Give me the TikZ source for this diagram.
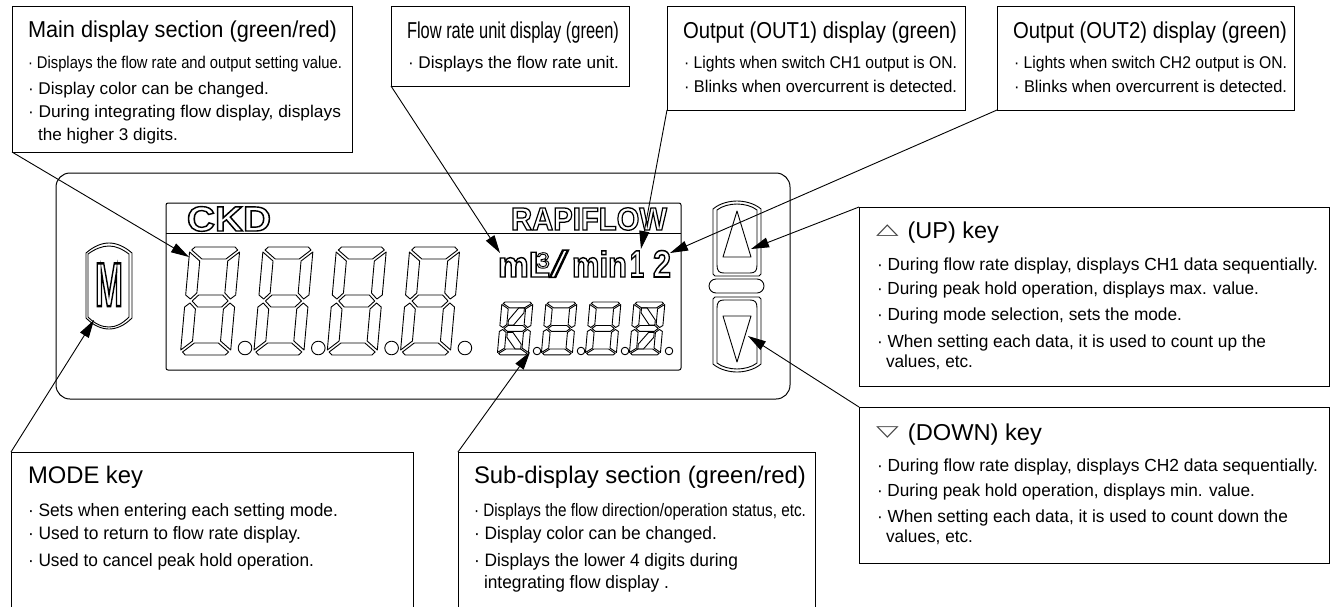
\documentclass[tikz,border=0pt]{standalone}
\usepackage{fontspec}
\usepackage{graphicx}
\setmainfont{Liberation Sans}
\newfontfamily\dejavu{DejaVu Sans}
\newfontface\outfont{Liberation Sans Bold}[FakeBold=4]
\newfontface\outreg{Liberation Sans}[FakeBold=4]
\usetikzlibrary{arrows.meta}
\newsavebox\tlbox
\newcounter{tlc}
\newcommand\txtline[5]{%
  \stepcounter{tlc}%
  \node[anchor=base west,inner sep=0pt,outer sep=0pt] (t\thetlc) at (#1,#2) {%
    \sbox\tlbox{\fontsize{#4}{#4}\selectfont #5}%
    \pgfmathsetmacro\xs{#3/\the\wd\tlbox}%
    \scalebox{\xs}[1]{\usebox\tlbox}};}
\newcommand\OT{\outfont\color{white}\special{pdf:code 0 0 0 RG}}
\newcommand\OR{\outreg\color{white}\special{pdf:code 0 0 0 RG}}
\newcommand\keyglyph[1]{\makebox[31pt][l]{\raisebox{3.5pt}{\scalebox{1.25}[.66]{\dejavu\color{black!75}#1}}}}
\tikzset{
  callout/.style={draw=black,line width=1pt,fill=white,anchor=north west,inner sep=0pt,outer sep=0pt,rectangle},
  leader/.style={draw=black,line width=0.9pt,-{Triangle[length=18pt,width=10pt]}},
  seg/.style={draw=black,line width=0.9pt,line join=round},
  panel/.style={draw=black,line width=1pt},
}
% big/small seven-segment digit
\newcommand\segs{%
  \draw[seg] (5,0)--(45,0)--(48,3)--(37,12)--(13,12)--(2,3)--cycle;
  \draw[seg] (0,5)--(11,14)--(11,46)--(5,52)--(0,48)--cycle;
  \draw[seg] (50,5)--(39,14)--(39,46)--(45,52)--(50,48)--cycle;
  \draw[seg] (7,54)--(13,48)--(37,48)--(43,54)--(37,60)--(13,60)--cycle;
  \draw[seg] (0,60)--(5,56)--(11,62)--(11,94)--(0,103)--cycle;
  \draw[seg] (50,60)--(45,56)--(39,62)--(39,94)--(50,103)--cycle;
  \draw[seg] (2,105)--(13,96)--(37,96)--(48,105)--(45,108)--(5,108)--cycle;}
\newcommand\digit[4]{\begin{scope}[shift={(#1,#2)},xslant=.09,xscale=#3,yscale=#4]\segs\end{scope}}
\newcommand\keyshape{%
  \draw[seg] (713,274)--(713,209) .. controls (720,203) and (730,201) .. (737,201) .. controls (744,201) and (754,203) .. (761,209) -- (761,274) -- (759,276) -- (715,276) -- cycle;
  \draw[seg] (717,265)--(717,210) .. controls (722,206) and (730,204) .. (737,204) .. controls (744,204) and (752,206) .. (757,210) -- (757,265) .. controls (757,271) and (755,273) .. (750,273) -- (724,273) .. controls (719,273) and (717,271) .. (717,265) -- cycle;
  \draw[seg] (737,211)--(751,257)--(723,257)--cycle;}
\begin{document}
\begin{tikzpicture}[x=1pt,y=-1pt]
\useasboundingbox (0,0) rectangle (1333,606);
% panel
\draw[panel,rounded corners=14pt] (56,173) rectangle (790,399);
\draw[panel,rounded corners=2pt] (166,203) rectangle (681,370);
\draw[panel] (166,233)--(681,233);
% big digits
\foreach \i in {0,1,2,3}{
  \digit{190+73.3*\i}{247}{1}{1}
  \draw[seg] (245+73.3*\i,348) circle (6.8);
}
% small digits
\foreach \i in {0,1,2,3}{
  \digit{502+44*\i}{302}{.62}{.49}
  \draw[seg] (537+44*\i,351) circle (3.8);
}
\begin{scope}[shift={(502,302)},xslant=.09,xscale=.62,yscale=.49]
  \draw[seg] (13,47)--(22,47)--(37,22)--(37,12)--(28,12)--(13,37)--cycle;
  \draw[seg] (13,62)--(13,72)--(28,96)--(37,96)--(37,86)--(22,62)--cycle;
\end{scope}
\begin{scope}[shift={(634,302)},xslant=.09,xscale=.62,yscale=.49]
  \draw[seg] (13,12)--(13,22)--(28,47)--(37,47)--(37,37)--(22,12)--cycle;
  \draw[seg] (13,96)--(22,96)--(37,72)--(37,62)--(28,62)--(13,86)--cycle;
\end{scope}
% LCD legends
\txtline{187}{231}{84}{35}{\OT CKD}
\txtline{511}{230}{156}{32}{\OT RAPIFLOW}
\txtline{498}{277}{52}{36}{\OT mL}
\txtline{536}{268}{14}{22}{\OR 3}
\txtline{550}{277}{18}{37}{\OR /}
\txtline{572}{277}{55}{36}{\OT min}
\txtline{630}{277}{14}{38}{\OT 1}
\txtline{653}{277}{18}{38}{\OT 2}
% M key
\draw[seg] (86,253) .. controls (94,246) and (102,243) .. (109,243) .. controls (116,243) and (124,246) .. (132,253) -- (132,318) .. controls (124,326) and (116,329) .. (109,329) .. controls (102,329) and (94,326) .. (86,318) -- cycle;
\draw[seg] (88,254) .. controls (95,249) and (102,246) .. (109,246) .. controls (116,246) and (122,249) .. (129,254) -- (129,317) .. controls (122,324) and (116,327) .. (109,327) .. controls (102,327) and (95,324) .. (88,317) -- cycle;
\txtline{95}{306}{28}{62}{\OT M}
% up / down keys
\keyshape
\begin{scope}[shift={(0,573)},yscale=-1]\keyshape\end{scope}
\draw[seg,rounded corners=7pt] (709,279) rectangle (764,293);
% callout boxes
\node[callout,minimum width=340pt,minimum height=146pt] (bmain) at (12,6) {};
\node[callout,minimum width=238pt,minimum height=80pt] (bunit) at (391,6) {};
\node[callout,minimum width=298pt,minimum height=104pt] (bout1) at (667,6) {};
\node[callout,minimum width=297pt,minimum height=104pt] (bout2) at (997,6) {};
\node[callout,minimum width=470pt,minimum height=179pt] (bup) at (859,207) {};
\node[callout,minimum width=470pt,minimum height=156pt] (bdown) at (859,407) {};
\node[callout,minimum width=402pt,minimum height=170pt] (bmode) at (11,452) {};
\node[callout,minimum width=357pt,minimum height=170pt] (bsub) at (458,452) {};
% arrow targets
\coordinate (tmain) at (189,257);
\coordinate (tunit) at (500,253);
\coordinate (tout1) at (641,249);
\coordinate (tout2) at (670,253);
\coordinate (tup) at (751,249);
\coordinate (tdown) at (748,336);
\coordinate (tmode) at (94,320);
\coordinate (tsub) at (530,352);
\draw[leader] (bmain.south west)--(tmain);
\draw[leader] (bunit.south west)--(tunit);
\draw[leader] (bout1.south west)--(tout1);
\draw[leader] (bout2.south west)--(tout2);
\draw[leader] (bup.north west)--(tup);
\draw[leader] (bdown.north west)--(tdown);
\draw[leader] (bmode.north west)--(tmode);
\draw[leader] (bsub.north west)--(tsub);
% main
\txtline{28}{37}{309}{23}{Main display section (green/red)}
\txtline{28}{68}{314}{17}{· Displays the flow rate and output setting value.}
\txtline{28}{94}{241}{17}{· Display color can be changed.}
\txtline{28}{117}{313}{17}{· During integrating flow display, displays}
\txtline{38}{140}{140}{17}{the higher 3 digits.}
% unit
\txtline{407}{38}{212}{23}{Flow rate unit display (green)}
\txtline{408}{68}{211}{17}{· Displays the flow rate unit.}
% out1
\txtline{683}{38}{274}{23}{Output (OUT1) display (green)}
\txtline{684}{68}{273}{17}{· Lights when switch CH1 output is ON.}
\txtline{684}{92}{273}{17}{· Blinks when overcurrent is detected.}
% out2
\txtline{1013}{38}{274}{23}{Output (OUT2) display (green)}
\txtline{1014}{68}{273}{17}{· Lights when switch CH2 output is ON.}
\txtline{1014}{92}{273}{17}{· Blinks when overcurrent is detected.}
% up
\txtline{876}{238}{123}{23}{\keyglyph{△}(UP) key}
\txtline{877}{270}{441}{17.5}{· During flow rate display, displays CH1 data sequentially.}
\txtline{877}{294}{382}{17.5}{· During peak hold operation, displays max. value.}
\txtline{877}{320}{305}{17.5}{· During mode selection, sets the mode.}
\txtline{877}{347}{389}{17.5}{· When setting each data, it is used to count up the}
\txtline{886}{367}{87}{17.5}{values, etc.}
% down
\txtline{876}{440}{166}{23}{\keyglyph{▽}(DOWN) key}
\txtline{877}{471}{441}{17.5}{· During flow rate display, displays CH2 data sequentially.}
\txtline{877}{496}{378}{17.5}{· During peak hold operation, displays min. value.}
\txtline{877}{522}{411}{17.5}{· When setting each data, it is used to count down the}
\txtline{886}{542}{87}{17.5}{values, etc.}
% mode
\txtline{28}{483}{115}{24}{MODE key}
\txtline{28}{516}{310}{18}{· Sets when entering each setting mode.}
\txtline{28}{539}{273}{18}{· Used to return to flow rate display.}
\txtline{28}{566}{286}{18}{· Used to cancel peak hold operation.}
% sub
\txtline{474}{483}{332}{24}{Sub-display section (green/red)}
\txtline{474}{516}{332}{18}{· Displays the flow direction/operation status, etc.}
\txtline{474}{539}{243}{18}{· Display color can be changed.}
\txtline{474}{566}{264}{18}{· Displays the lower 4 digits during}
\txtline{484}{588}{185}{18}{integrating flow display .}
\end{tikzpicture}
\end{document}
